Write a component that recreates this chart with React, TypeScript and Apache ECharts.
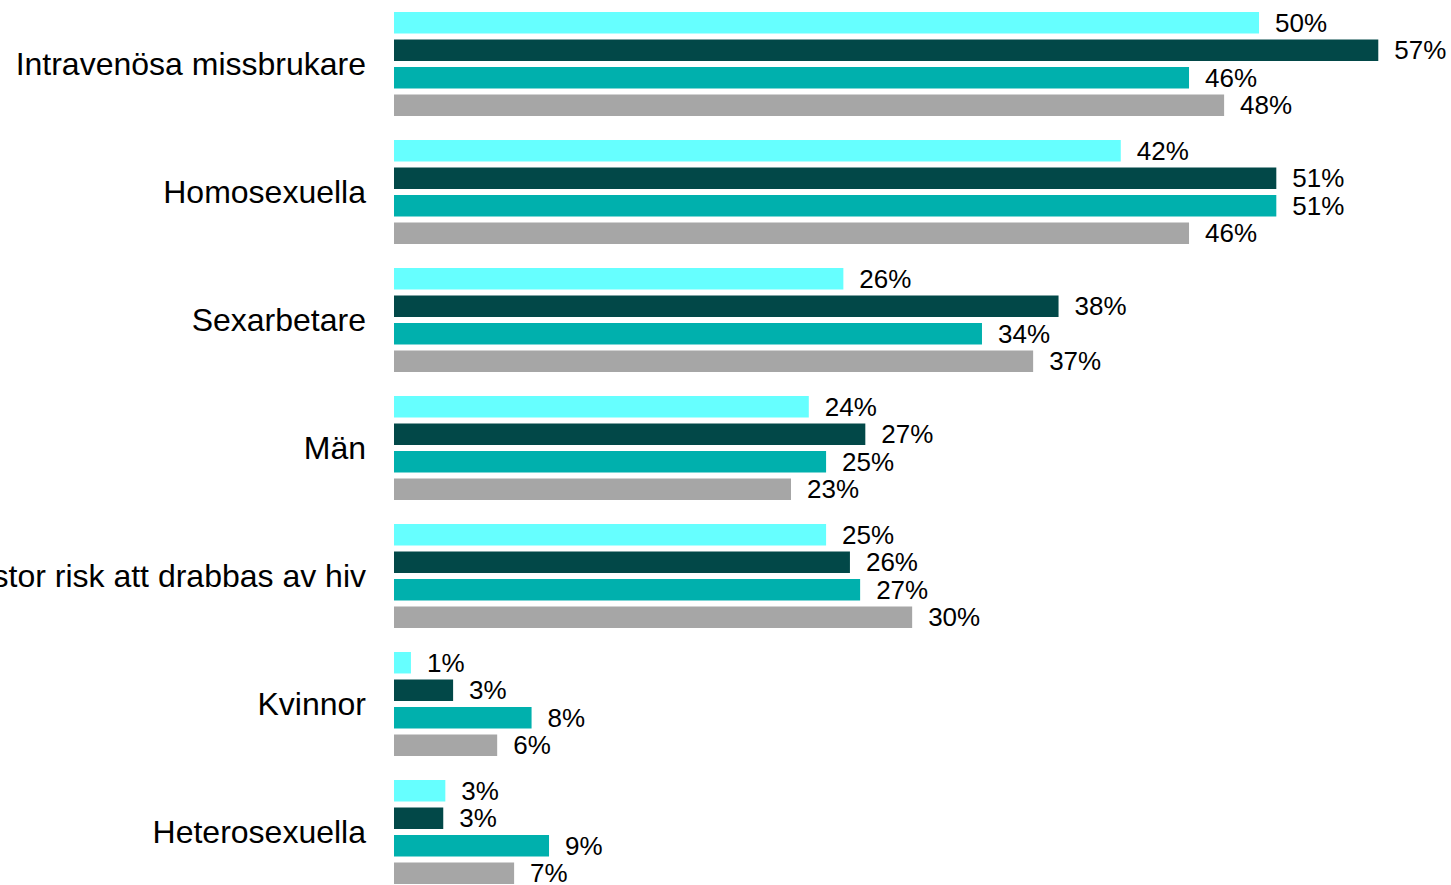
import React, { useEffect, useRef } from "react";
import * as echarts from "echarts";

const categories = [
  "Intravenösa missbrukare",
  "Homosexuella",
  "Sexarbetare",
  "Män",
  "stor risk att drabbas av hiv",
  "Kvinnor",
  "Heterosexuella",
];

const seriesCyan = [50.05, 42.05, 26.0, 24.0, 25.0, 0.98, 2.97];
const seriesDark = [56.95, 51.05, 38.45, 27.27, 26.38, 3.42, 2.85];
const seriesTeal = [46.0, 51.05, 34.02, 25.0, 26.97, 7.96, 8.97];
const seriesGray = [48.03, 46.0, 36.98, 22.97, 29.98, 5.97, 6.95];

const colors = ["#66FFFF", "#024848", "#00B0AD", "#A6A6A6"];
const seriesData = [seriesCyan, seriesDark, seriesTeal, seriesGray];
const seriesNames = ["Serie 1", "Serie 2", "Serie 3", "Serie 4"];

const FONT = "'Liberation Sans', Arial, sans-serif";

export default function App() {
  const ref = useRef<HTMLDivElement>(null);
  useEffect(() => {
    if (!ref.current) return;
    const chart = echarts.init(ref.current, undefined, { renderer: "svg" });
    chart.setOption({
      animation: false,
      backgroundColor: "#ffffff",
      grid: {
        left: 394,
        right: 20,
        top: 0,
        bottom: 0,
        containLabel: false,
        outerBoundsMode: "none",
      },
      xAxis: {
        type: "value",
        min: 0,
        max: 60,
        show: false,
        splitLine: { show: false },
      },
      yAxis: {
        type: "category",
        data: categories,
        inverse: true,
        axisLine: { show: false },
        axisTick: { show: false },
        axisLabel: {
          margin: 28,
          fontSize: 32,
          fontFamily: FONT,
          color: "#000000",
          padding: [0, 0, 2, 0],
        },
      },
      series: seriesData.map((d, i) => ({
        name: seriesNames[i],
        type: "bar",
        data: d,
        barWidth: 21.5,
        barGap: "28%",
        itemStyle: { color: colors[i] },
        label: {
          show: true,
          position: "right",
          distance: 16,
          fontSize: 26,
          fontFamily: FONT,
          color: "#000000",
          padding: [2, 0, 0, 0],
          formatter: (p: any) => Math.round(p.value) + "%",
        },
      })),
    });
    return () => chart.dispose();
  }, []);
  return (
    <div
      ref={ref}
      style={{ position: "fixed", left: 0, top: 0, width: 1451, height: 896 }}
    />
  );
}
